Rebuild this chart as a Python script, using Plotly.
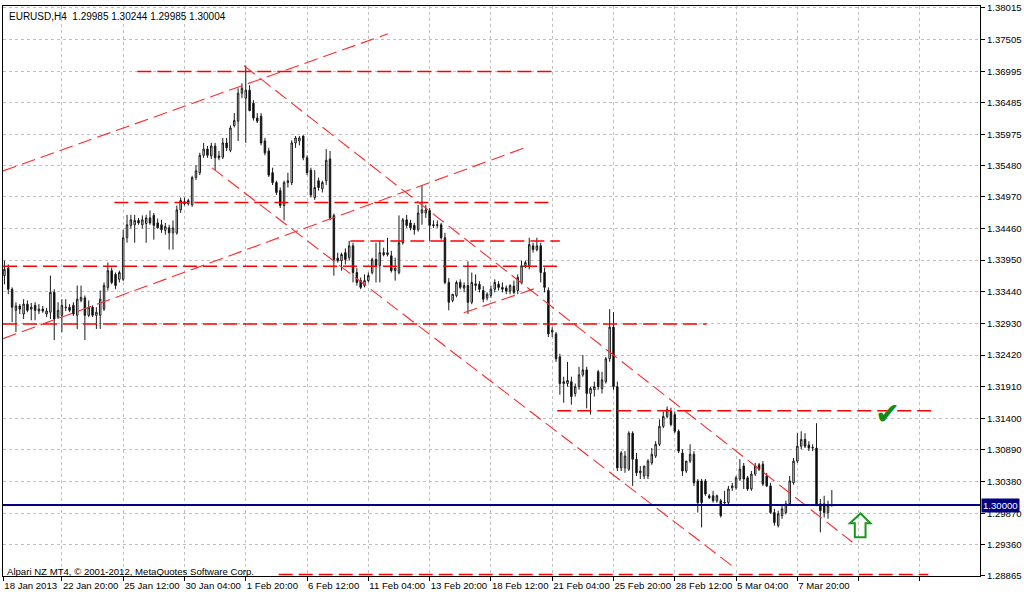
import plotly.graph_objects as go

# ---------------- data (EURUSD H4) ----------------
bar_index = list(range(1, 218))

opens = [
    1.3370, 1.3382, 1.3348, 1.3314, 1.3321, 1.3308, 1.3324, 1.3316, 1.3322, 1.3313,
    1.3316, 1.3308, 1.3311, 1.3343, 1.3303, 1.3306, 1.3318, 1.3319, 1.3322, 1.3306,
    1.3330, 1.3334, 1.3306, 1.3319, 1.3306, 1.3306, 1.3316, 1.3351, 1.3378, 1.3372,
    1.3364, 1.3364, 1.3431, 1.3451, 1.3452, 1.3459, 1.3452, 1.3454, 1.3463, 1.3467,
    1.3455, 1.3452, 1.3443, 1.3447, 1.3439, 1.3439, 1.3476, 1.3489, 1.3486, 1.3484,
    1.3528, 1.3536, 1.3564, 1.3574, 1.3563, 1.3579, 1.3563, 1.3561, 1.3584, 1.3572,
    1.3612, 1.3619, 1.3664, 1.3656, 1.3669, 1.3648, 1.3624, 1.3627, 1.3587, 1.3571,
    1.3536, 1.3520, 1.3507, 1.3483, 1.3520, 1.3520, 1.3584, 1.3587, 1.3595, 1.3560,
    1.3540, 1.3496, 1.3523, 1.3510, 1.3523, 1.3558, 1.3467, 1.3398, 1.3394, 1.3407,
    1.3399, 1.3418, 1.3375, 1.3362, 1.3354, 1.3362, 1.3375, 1.3396, 1.3386, 1.3407,
    1.3404, 1.3402, 1.3378, 1.3375, 1.3423, 1.3460, 1.3455, 1.3451, 1.3444, 1.3471,
    1.3471, 1.3475, 1.3452, 1.3451, 1.3452, 1.3431, 1.3359, 1.3330, 1.3338, 1.3359,
    1.3350, 1.3354, 1.3327, 1.3354, 1.3356, 1.3346, 1.3334, 1.3338, 1.3348, 1.3356,
    1.3351, 1.3350, 1.3345, 1.3353, 1.3346, 1.3359, 1.3386, 1.3386, 1.3418, 1.3412,
    1.3418, 1.3375, 1.3346, 1.3279, 1.3276, 1.3239, 1.3196, 1.3196, 1.3199, 1.3180,
    1.3191, 1.3210, 1.3218, 1.3180, 1.3186, 1.3215, 1.3188, 1.3199, 1.3236, 1.3287,
    1.3191, 1.3060, 1.3060, 1.3058, 1.3116, 1.3074, 1.3052, 1.3047, 1.3047, 1.3068,
    1.3079, 1.3098, 1.3127, 1.3143, 1.3151, 1.3146, 1.3119, 1.3084, 1.3055, 1.3071,
    1.3082, 1.3039, 1.3039, 1.3039, 1.3015, 1.3015, 1.3007, 1.3007, 1.3005, 1.3004,
    1.3028, 1.3028, 1.3042, 1.3063, 1.3044, 1.3026, 1.3050, 1.3065, 1.3066, 1.3047,
    1.3031, 1.2988, 1.2967, 1.2983, 1.2988, 1.3002, 1.3036, 1.3071, 1.3095, 1.3106,
    1.3097, 1.3092, 1.3092, 1.3002, 1.3002, 1.2988, 1.29985,
]
highs = [
    1.3394, 1.3388, 1.3351, 1.3327, 1.3324, 1.3332, 1.3330, 1.3326, 1.3327, 1.3324,
    1.3321, 1.3318, 1.3370, 1.3348, 1.3327, 1.3332, 1.3332, 1.3324, 1.3327, 1.3354,
    1.3354, 1.3338, 1.3330, 1.3322, 1.3319, 1.3346, 1.3359, 1.3391, 1.3383, 1.3375,
    1.3378, 1.3444, 1.3468, 1.3468, 1.3468, 1.3463, 1.3467, 1.3468, 1.3475, 1.3471,
    1.3462, 1.3460, 1.3455, 1.3452, 1.3459, 1.3483, 1.3496, 1.3496, 1.3494, 1.3531,
    1.3548, 1.3568, 1.3584, 1.3579, 1.3584, 1.3584, 1.3571, 1.3592, 1.3592, 1.3612,
    1.3632, 1.3672, 1.3680, 1.3709, 1.3677, 1.3653, 1.3632, 1.3632, 1.3592, 1.3576,
    1.3544, 1.3523, 1.3512, 1.3523, 1.3536, 1.3588, 1.3595, 1.3595, 1.3596, 1.3564,
    1.3544, 1.3540, 1.3528, 1.3523, 1.3574, 1.3571, 1.3470, 1.3407, 1.3407, 1.3414,
    1.3426, 1.3423, 1.3382, 1.3367, 1.3372, 1.3375, 1.3399, 1.3423, 1.3426, 1.3415,
    1.3431, 1.3410, 1.3399, 1.3467, 1.3463, 1.3468, 1.3460, 1.3455, 1.3484, 1.3516,
    1.3484, 1.3479, 1.3459, 1.3459, 1.3455, 1.3439, 1.3366, 1.3340, 1.3362, 1.3364,
    1.3359, 1.3393, 1.3375, 1.3372, 1.3361, 1.3353, 1.3343, 1.3354, 1.3364, 1.3361,
    1.3359, 1.3354, 1.3356, 1.3362, 1.3372, 1.3394, 1.3394, 1.3431, 1.3423, 1.3431,
    1.3423, 1.3383, 1.3351, 1.3287, 1.3279, 1.3244, 1.3207, 1.3231, 1.3207, 1.3196,
    1.3223, 1.3242, 1.3223, 1.3191, 1.3199, 1.3218, 1.3215, 1.3239, 1.3316, 1.3311,
    1.3199, 1.3087, 1.3087, 1.3119, 1.3119, 1.3084, 1.3063, 1.3063, 1.3074, 1.3092,
    1.3103, 1.3138, 1.3151, 1.3159, 1.3157, 1.3151, 1.3122, 1.3090, 1.3071, 1.3098,
    1.3087, 1.3042, 1.3042, 1.3042, 1.3018, 1.3023, 1.3017, 1.3010, 1.3023, 1.3031,
    1.3036, 1.3047, 1.3074, 1.3068, 1.3047, 1.3055, 1.3068, 1.3068, 1.3071, 1.3052,
    1.3036, 1.2994, 1.2991, 1.2999, 1.3007, 1.3047, 1.3076, 1.3116, 1.3119, 1.3116,
    1.3103, 1.3098, 1.3132, 1.3010, 1.3015, 1.3007, 1.30244,
]
lows = [
    1.3356, 1.3340, 1.3295, 1.3279, 1.3308, 1.3300, 1.3311, 1.3298, 1.3298, 1.3308,
    1.3310, 1.3303, 1.3300, 1.3266, 1.3300, 1.3279, 1.3313, 1.3311, 1.3305, 1.3284,
    1.3327, 1.3266, 1.3303, 1.3303, 1.3284, 1.3284, 1.3313, 1.3346, 1.3356, 1.3348,
    1.3359, 1.3361, 1.3423, 1.3446, 1.3423, 1.3452, 1.3446, 1.3423, 1.3452, 1.3428,
    1.3446, 1.3439, 1.3436, 1.3412, 1.3412, 1.3436, 1.3471, 1.3483, 1.3483, 1.3481,
    1.3524, 1.3532, 1.3560, 1.3560, 1.3558, 1.3540, 1.3556, 1.3558, 1.3571, 1.3569,
    1.3609, 1.3587, 1.3656, 1.3584, 1.3635, 1.3620, 1.3616, 1.3580, 1.3564, 1.3529,
    1.3516, 1.3500, 1.3479, 1.3459, 1.3512, 1.3516, 1.3576, 1.3580, 1.3556, 1.3532,
    1.3496, 1.3492, 1.3507, 1.3504, 1.3516, 1.3459, 1.3370, 1.3391, 1.3378, 1.3388,
    1.3394, 1.3359, 1.3354, 1.3348, 1.3351, 1.3359, 1.3372, 1.3359, 1.3359, 1.3401,
    1.3401, 1.3375, 1.3362, 1.3372, 1.3420, 1.3447, 1.3443, 1.3436, 1.3441, 1.3452,
    1.3463, 1.3426, 1.3447, 1.3447, 1.3428, 1.3356, 1.3314, 1.3327, 1.3335, 1.3348,
    1.3343, 1.3308, 1.3324, 1.3346, 1.3343, 1.3327, 1.3330, 1.3334, 1.3343, 1.3346,
    1.3343, 1.3340, 1.3340, 1.3340, 1.3340, 1.3356, 1.3382, 1.3380, 1.3407, 1.3409,
    1.3359, 1.3343, 1.3271, 1.3271, 1.3231, 1.3178, 1.3165, 1.3191, 1.3162, 1.3175,
    1.3186, 1.3207, 1.3156, 1.3146, 1.3175, 1.3186, 1.3180, 1.3196, 1.3231, 1.3186,
    1.3055, 1.3055, 1.3052, 1.3055, 1.3031, 1.3047, 1.3042, 1.3042, 1.3042, 1.3065,
    1.3076, 1.3095, 1.3124, 1.3140, 1.3127, 1.3116, 1.3084, 1.3047, 1.3052, 1.3068,
    1.3031, 1.2988, 1.2964, 1.3015, 1.3010, 1.3004, 1.3004, 1.2980, 1.2999, 1.3000,
    1.3023, 1.3025, 1.3039, 1.3026, 1.3023, 1.3023, 1.3047, 1.3055, 1.3031, 1.3029,
    1.2986, 1.2967, 1.2964, 1.2978, 1.2985, 1.2999, 1.3033, 1.3068, 1.3090, 1.3092,
    1.3087, 1.3087, 1.2999, 1.2956, 1.2980, 1.2978, 1.29985,
]
closes = [
    1.3380, 1.3348, 1.3319, 1.3321, 1.3316, 1.3324, 1.3314, 1.3319, 1.3314, 1.3316,
    1.3313, 1.3313, 1.3343, 1.3300, 1.3314, 1.3322, 1.3319, 1.3314, 1.3308, 1.3332,
    1.3335, 1.3306, 1.3319, 1.3306, 1.3311, 1.3332, 1.3354, 1.3378, 1.3359, 1.3354,
    1.3375, 1.3431, 1.3452, 1.3460, 1.3459, 1.3455, 1.3460, 1.3463, 1.3455, 1.3451,
    1.3447, 1.3444, 1.3449, 1.3439, 1.3447, 1.3476, 1.3491, 1.3486, 1.3491, 1.3528,
    1.3539, 1.3564, 1.3574, 1.3564, 1.3579, 1.3560, 1.3560, 1.3584, 1.3576, 1.3608,
    1.3620, 1.3664, 1.3672, 1.3669, 1.3636, 1.3624, 1.3619, 1.3584, 1.3568, 1.3532,
    1.3520, 1.3504, 1.3483, 1.3520, 1.3523, 1.3584, 1.3592, 1.3592, 1.3560, 1.3536,
    1.3500, 1.3512, 1.3512, 1.3520, 1.3556, 1.3463, 1.3396, 1.3394, 1.3404, 1.3396,
    1.3418, 1.3375, 1.3359, 1.3351, 1.3362, 1.3370, 1.3396, 1.3386, 1.3407, 1.3404,
    1.3407, 1.3378, 1.3382, 1.3423, 1.3460, 1.3451, 1.3447, 1.3444, 1.3471, 1.3476,
    1.3476, 1.3451, 1.3451, 1.3452, 1.3431, 1.3359, 1.3327, 1.3340, 1.3359, 1.3351,
    1.3354, 1.3327, 1.3359, 1.3357, 1.3348, 1.3332, 1.3340, 1.3348, 1.3359, 1.3351,
    1.3348, 1.3345, 1.3354, 1.3343, 1.3367, 1.3386, 1.3391, 1.3420, 1.3412, 1.3418,
    1.3375, 1.3351, 1.3276, 1.3282, 1.3236, 1.3196, 1.3199, 1.3201, 1.3175, 1.3191,
    1.3210, 1.3218, 1.3180, 1.3188, 1.3191, 1.3191, 1.3202, 1.3236, 1.3287, 1.3191,
    1.3060, 1.3084, 1.3079, 1.3116, 1.3074, 1.3052, 1.3055, 1.3063, 1.3071, 1.3082,
    1.3098, 1.3127, 1.3143, 1.3154, 1.3130, 1.3119, 1.3087, 1.3055, 1.3071, 1.3082,
    1.3036, 1.3004, 1.3004, 1.3018, 1.3012, 1.3007, 1.3015, 1.2983, 1.3004, 1.3026,
    1.3031, 1.3044, 1.3058, 1.3042, 1.3026, 1.3050, 1.3063, 1.3058, 1.3034, 1.3031,
    1.2988, 1.2972, 1.2986, 1.2994, 1.3002, 1.3039, 1.3071, 1.3095, 1.3106, 1.3095,
    1.3092, 1.3093, 1.2999, 1.2991, 1.2988, 1.2999, 1.30004,
]

# price axis labels
price_ticks = [1.38015, 1.37505, 1.36995, 1.36485, 1.35975, 1.35480, 1.34970,
               1.34460, 1.33950, 1.33440, 1.32930, 1.32420, 1.31910, 1.31400,
               1.30890, 1.30380, 1.29870, 1.29360, 1.28865]

# time axis labels (one every 16 H4 bars)
time_tick_bars = [0.7, 16, 32, 48, 64, 80, 96, 112, 128, 144, 160, 176, 192, 208, 224, 240]
time_tick_labels = ["18 Jan 2013", "22 Jan 20:00", "25 Jan 12:00", "30 Jan 04:00",
                    "1 Feb 20:00", "6 Feb 12:00", "11 Feb 04:00", "13 Feb 20:00",
                    "18 Feb 12:00", "21 Feb 04:00", "25 Feb 20:00", "28 Feb 12:00",
                    "5 Mar 04:00", "7 Mar 20:00", "", ""]

# horizontal dashed levels (price, first bar, last bar)
level_prices = [1.3699, 1.3488, 1.3426, 1.3385, 1.3292, 1.3152, 1.2888]
level_start = [35.7, 29.7, 91.3, 0.62, 0.62, 145.3, 72.6]
level_end = [144.5, 144.5, 146.0, 146.0, 184.3, 243.2, 242.2]

# trend lines (bar, price) -> (bar, price)
trend_i0 = [0.62, 0.62, 63.5, 55.2, 120.9]
trend_p0 = [1.35389, 1.32684, 1.37086, 1.35437, 1.33100]
trend_i1 = [101.1, 136.7, 222.4, 192.05, 140.6]
trend_p1 = [1.37599, 1.35758, 1.29402, 1.28969, 1.33516]

hline_price = 1.30000

# chart objects (check mark & arrow anchored in bar/price space)
check_bar, check_price = 231.5, 1.31483
arrow_bars = [224.5, 227.1, 225.8, 225.8, 223.0, 223.0, 221.7]
arrow_prices = [1.29866, 1.29706, 1.29706, 1.29482, 1.29482, 1.29706, 1.29706]

# ---------------- figure ----------------
FONT = "Tahoma, 'Liberation Sans', Arial, sans-serif"
FS = 9.6

fig = go.Figure()
fig.add_trace(go.Candlestick(
    x=bar_index, open=opens, high=highs, low=lows, close=closes,
    increasing=dict(fillcolor="white", line=dict(color="#1a1a1a", width=1)),
    decreasing=dict(fillcolor="black", line=dict(color="#1a1a1a", width=1)),
    whiskerwidth=0, showlegend=False, hoverinfo="skip",
))

shapes = []
for p, a, b in zip(level_prices, level_start, level_end):
    shapes.append(dict(type="line", xref="x", yref="y", x0=a, x1=b, y0=p, y1=p,
                       line=dict(color="#ff0000", width=1.5, dash="14px,6px")))
for a, pa, b, pb in zip(trend_i0, trend_p0, trend_i1, trend_p1):
    shapes.append(dict(type="line", xref="x", yref="y", x0=a, x1=b, y0=pa, y1=pb,
                       line=dict(color="#ff2a2a", width=1.1, dash="14px,6px")))
shapes.append(dict(type="line", xref="paper", yref="y", x0=0, x1=1,
                   y0=hline_price, y1=hline_price,
                   line=dict(color="#000080", width=2)))
path = "M " + " L ".join(f"{b},{p}" for b, p in zip(arrow_bars, arrow_prices)) + " Z"
shapes.append(dict(type="path", xref="x", yref="y", path=path,
                   line=dict(color="#1b961b", width=2), fillcolor="rgba(0,0,0,0)"))

last = len(closes) - 1
title_text = "EURUSD,H4  {:.5f} {:.5f} {:.5f} {:.5f}".format(
    opens[last], highs[last], lows[last], closes[last])

annotations = [
    dict(xref="paper", yref="paper", x=0.004, y=0.982, xanchor="left", yanchor="middle",
         text=title_text, showarrow=False, font=dict(family=FONT, size=10, color="black")),
    dict(xref="paper", yref="paper", x=0.002, y=0.0087, xanchor="left", yanchor="middle",
         text="Alpari NZ MT4, © 2001-2012, MetaQuotes Software Corp.", showarrow=False,
         font=dict(family=FONT, size=FS, color="black")),
    dict(xref="paper", yref="y", x=1, y=hline_price, xanchor="left", yanchor="middle",
         xshift=1, text="{:.5f}".format(hline_price), showarrow=False,
         bgcolor="#000080", borderpad=1,
         font=dict(family=FONT, size=FS, color="white")),
    dict(xref="x", yref="y", x=check_bar, y=check_price, text="✔", showarrow=False,
         font=dict(family="DejaVu Sans", size=30, color="#108c10")),
]

fig.update_layout(
    width=1024, height=595,
    margin=dict(l=3, r=39, t=2, b=19, pad=0),
    paper_bgcolor="white", plot_bgcolor="white",
    showlegend=False, boxgap=0.45,
    font=dict(family=FONT, size=FS, color="black"),
    shapes=shapes, annotations=annotations,
    xaxis=dict(
        range=[0.623, 255.68], rangeslider=dict(visible=False),
        tickmode="array", tickvals=time_tick_bars, ticktext=time_tick_labels,
        tickangle=0,
        ticks="outside", ticklen=4, tickcolor="black",
        ticklabelposition="outside right", ticklabeloverflow="allow",
        showgrid=True, gridcolor="#c0c0c0", griddash="3px,3px", gridwidth=1,
        showline=True, linecolor="black", linewidth=1, mirror=True,
        zeroline=False, tickfont=dict(family=FONT, size=FS, color="black"),
    ),
    yaxis=dict(
        range=[1.28857, 1.38047], side="right",
        tickmode="array", tickvals=price_ticks,
        ticktext=["{:.5f}".format(v) for v in price_ticks],
        ticks="outside", ticklen=4, tickcolor="black", ticklabeloverflow="allow",
        showgrid=True, gridcolor="#c0c0c0", griddash="3px,3px", gridwidth=1,
        showline=True, linecolor="black", linewidth=1, mirror=True,
        zeroline=False, tickfont=dict(family=FONT, size=FS, color="black"),
    ),
)

fig.write_html(
    "out.html",
    config={"displayModeBar": False},
    post_script="document.body.style.margin='0';document.body.style.padding='0';"
                "document.body.style.overflow='hidden';",
)
